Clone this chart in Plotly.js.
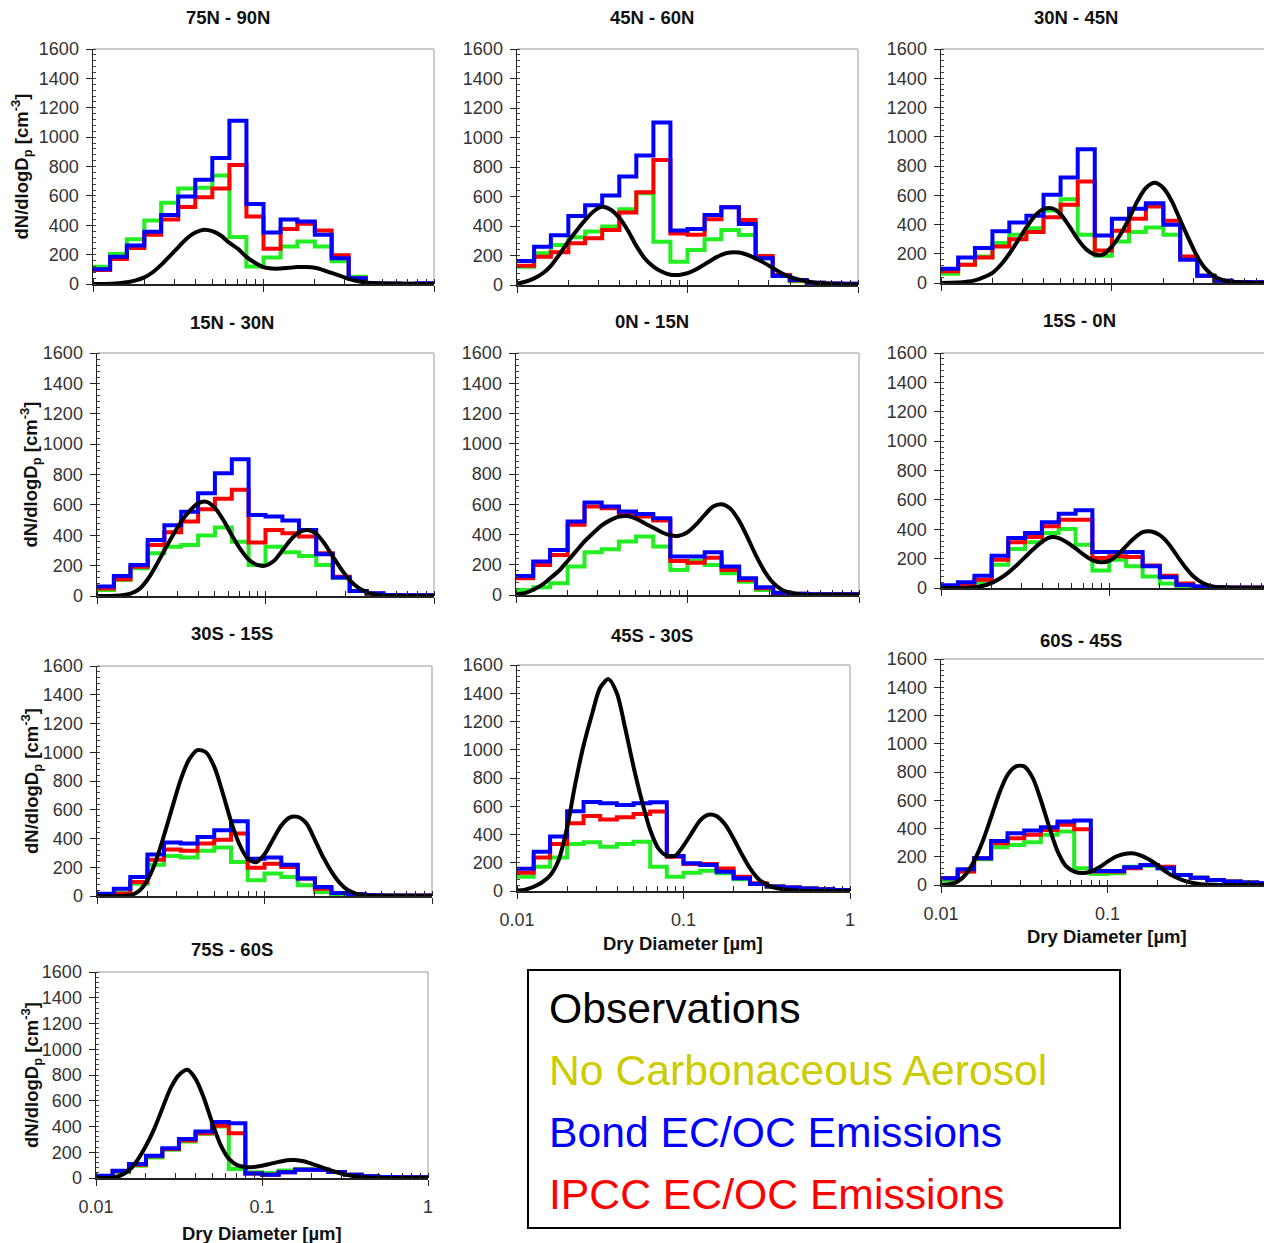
<!DOCTYPE html>
<html>
<head>
<meta charset="utf-8">
<script src="https://cdn.plot.ly/plotly-3.0.1.min.js"></script>
<style>html,body{margin:0;padding:0;background:#fff;}#chart{width:1264px;height:1243px;}</style>
</head>
<body>
<div id="chart"></div>
<script>
// ---------------- DATA ----------------
// Model size-bin edges (dry diameter, µm), 10 bins per decade
const binEdges = [0.01, 0.0126, 0.0158, 0.02, 0.0251, 0.0316, 0.0398, 0.0501, 0.0631, 0.0794,
                  0.1, 0.126, 0.158, 0.2, 0.251, 0.316, 0.398, 0.501, 0.631, 0.794, 1.0];
// Diameters where the observed distribution is sampled (µm)
const obsDiam = [0.01, 0.0112, 0.0126, 0.0141, 0.0158, 0.0178, 0.02, 0.0224, 0.0251, 0.0282,
                 0.0316, 0.0355, 0.0398, 0.0447, 0.0501, 0.0562, 0.0631, 0.0708, 0.0794, 0.0891,
                 0.1, 0.112, 0.126, 0.141, 0.158, 0.178, 0.2, 0.224, 0.251, 0.282,
                 0.316, 0.355, 0.398, 0.447, 0.501, 0.562, 0.631, 0.708, 0.794, 0.891, 1.0];

const regionNames = ['75N - 90N', '45N - 60N', '30N - 45N', '15N - 30N', '0N - 15N',
                     '15S - 0N', '30S - 15S', '45S - 30S', '60S - 45S', '75S - 60S'];

const seriesNames = ['Observations', 'No Carbonaceous Aerosol', 'Bond EC/OC Emissions', 'IPCC EC/OC Emissions'];

// 75N - 90N
const obs1  = [0,0,2,5,12,25,45,80,130,190,250,310,350,370,360,330,280,240,185,145,115,105,105,110,115,115,110,95,75,55,35,20,10,5,2,0,0,0,0,0,0];
const none1 = [118,205,305,432,554,650,655,738,320,120,180,255,290,255,155,50,6,3,2,2];
const ipcc1 = [95,170,245,335,440,525,590,650,810,460,240,375,410,365,195,40,5,3,2,2];
const bond1 = [100,185,262,355,470,595,710,858,1112,545,350,440,425,335,175,40,5,3,2,5];
// 45N - 60N
const obs2  = [8,22,45,78,130,210,295,370,440,500,530,510,455,370,265,180,125,90,70,68,80,105,140,175,205,220,220,205,180,150,115,82,55,38,25,16,10,6,4,3,2];
const none2 = [124,215,271,324,362,396,513,622,294,158,238,310,373,339,181,66,25,12,8,6];
const ipcc2 = [130,192,222,283,317,373,491,629,848,350,340,446,527,441,197,68,30,15,10,8];
const bond2 = [163,260,337,468,541,606,735,878,1102,369,380,475,527,414,181,61,34,16,10,8];
// 30N - 45N
const obs3  = [0,1,3,8,18,40,70,125,200,290,380,460,505,510,470,390,300,230,195,195,250,330,440,560,650,685,650,560,430,300,180,95,45,20,8,3,1,0,0,0,0];
const none3 = [64,125,182,273,330,375,496,573,330,187,284,348,380,330,170,50,16,6,5,5];
const ipcc3 = [80,125,175,250,300,348,450,535,694,223,357,439,523,425,182,50,16,6,5,5];
const bond3 = [98,175,239,353,414,460,603,721,915,325,439,507,546,398,159,50,16,6,5,5];
// 15N - 30N
const obs4  = [0,0,2,5,15,45,110,200,300,400,490,560,610,620,580,500,400,310,240,205,200,230,300,370,420,435,410,345,260,175,105,55,25,10,4,1,0,0,0,0,0];
const none4 = [40,105,182,281,325,336,398,451,358,204,325,288,264,204,120,33,15,7,5,5];
const ipcc4 = [50,110,193,336,420,490,571,640,699,352,435,413,391,281,127,33,15,7,5,5];
const bond4 = [62,132,204,369,466,554,677,809,901,534,523,497,435,275,121,33,18,7,5,5];
// 0N - 15N
const obs5  = [5,12,35,65,110,160,225,290,355,410,460,495,518,522,505,475,445,415,395,392,415,465,530,585,600,570,490,380,260,155,80,35,15,5,2,0,0,0,0,0,0];
const none5 = [33,51,77,188,283,302,353,386,320,166,227,199,143,88,33,8,5,5,5,5];
const ipcc5 = [110,199,265,464,585,574,541,519,492,225,214,247,166,99,44,12,8,5,5,5];
const bond5 = [126,221,298,486,611,585,552,536,508,254,254,283,188,110,51,15,8,5,5,5];
// 15S - 0N
const obs6  = [0,0,0,2,5,15,35,65,105,155,210,265,315,345,340,310,270,225,190,175,185,225,285,340,380,385,360,305,225,145,80,38,15,5,2,0,0,0,0,0,0];
const none6 = [5,11,39,159,266,311,374,402,295,120,193,148,79,30,7,3,2,2,2,2];
const ipcc6 = [11,16,57,193,311,347,420,465,465,204,216,211,154,84,30,11,5,4,3,3];
const bond6 = [18,39,84,220,340,374,447,506,529,245,245,245,148,73,20,11,5,4,3,3];
// 30S - 15S
const obs7  = [0,0,0,0,5,35,110,240,420,620,810,950,1015,1000,900,720,520,360,260,235,290,390,490,545,550,505,390,270,170,90,40,15,5,2,0,0,0,0,0,0,0];
const none7 = [0,21,86,218,279,267,314,337,237,109,156,132,74,28,12,6,4,3,2,2];
const ipcc7 = [5,16,97,253,323,314,365,392,434,197,225,202,121,51,21,12,6,4,3,3];
const bond7 = [16,51,132,288,372,365,411,457,520,260,267,218,121,63,21,12,6,4,3,3];
// 45S - 30S
const obs8  = [3,10,30,60,110,220,450,760,1030,1250,1440,1500,1400,1150,880,640,432,300,250,250,320,410,500,540,530,470,370,260,160,85,45,22,12,6,3,0,0,0,0,0,0];
const none8 = [101,172,238,333,345,314,333,349,172,101,130,144,125,83,50,31,24,17,12,7];
const ipcc8 = [130,238,333,479,531,507,522,545,562,243,191,191,160,101,54,31,24,17,12,7];
const bond8 = [158,278,385,564,630,621,609,621,628,248,196,184,137,90,50,31,24,17,12,7];
// 60S - 45S
const obs9  = [0,5,25,75,170,310,480,650,780,840,840,760,600,410,240,135,95,85,95,125,165,200,220,225,210,180,140,95,60,35,18,8,3,1,0,0,0,0,0,0,0];
const none9 = [31,95,182,267,284,303,355,378,118,78,83,130,137,118,71,52,35,24,17,12];
const ipcc9 = [47,95,189,296,331,355,390,426,395,95,95,118,142,130,71,52,35,24,17,12];
const bond9 = [47,111,189,312,366,385,409,449,456,99,99,125,142,118,71,52,35,24,17,12];
// 75S - 60S
const obs10  = [0,0,2,20,60,140,250,380,540,700,800,840,770,620,430,260,150,100,85,85,95,110,125,138,140,130,110,88,65,45,28,15,7,2,0,0,0,0,0,0,0];
const none10 = [8,44,95,160,219,284,343,400,70,44,39,59,70,65,46,26,13,8,5,5];
const ipcc10 = [12,52,103,168,225,292,348,405,348,34,26,44,65,65,46,26,13,8,5,5];
const bond10 = [18,57,108,173,232,302,361,434,426,34,26,44,65,65,46,26,13,8,5,5];

const yTickVals = [0, 200, 400, 600, 800, 1000, 1200, 1400, 1600];

// ---------------- LAYOUT GEOMETRY (pixels) ----------------
const W = 1264, H = 1243;
const FONT = 'Liberation Sans, Arial, Helvetica, sans-serif';
const panels = [
  {obs:obs1, none:none1, ipcc:ipcc1, bond:bond1, x:[93,434],  y:[49,284],  xEnd:0,     t:[228,17],   yt:22, xl:false, rb:true},
  {obs:obs2, none:none2, ipcc:ipcc2, bond:bond2, x:[517,858], y:[49,285],  xEnd:0,     t:[652,17],   yt:null, xl:false, rb:true},
  {obs:obs3, none:none3, ipcc:ipcc3, bond:bond3, x:[941,1264],y:[49,283],  xEnd:-0.11, t:[1076,17],  yt:null, xl:false, rb:false},
  {obs:obs4, none:none4, ipcc:ipcc4, bond:bond4, x:[97,434],  y:[353,596], xEnd:0,     t:[232,323],  yt:31, xl:false, rb:true},
  {obs:obs5, none:none5, ipcc:ipcc5, bond:bond5, x:[516,859], y:[353,595], xEnd:0,     t:[652,322],  yt:null, xl:false, rb:true},
  {obs:obs6, none:none6, ipcc:ipcc6, bond:bond6, x:[941,1264],y:[353,588], xEnd:-0.08, t:[1079,321], yt:null, xl:false, rb:false},
  {obs:obs7, none:none7, ipcc:ipcc7, bond:bond7, x:[97,432],  y:[666,896], xEnd:0,     t:[232,633],  yt:31, xl:false, rb:true},
  {obs:obs8, none:none8, ipcc:ipcc8, bond:bond8, x:[517,850], y:[665,891], xEnd:0,     t:[652,635],  yt:null, xl:true, xt:[683,943], rb:true},
  {obs:obs9, none:none9, ipcc:ipcc9, bond:bond9, x:[941,1264],y:[659,885], xEnd:-0.06, t:[1081,640], yt:null, xl:true, xt:[1107,937], rb:false},
  {obs:obs10,none:none10,ipcc:ipcc10,bond:bond10,x:[96,428],  y:[972,1178],xEnd:0,     t:[232,949],  yt:31, xl:true, xt:[262,1233], rb:true}
];

const px = v => v / W;
const py = v => 1 - v / H;

const traces = [];
const layout = {
  width: W, height: H,
  margin: {l:0, r:0, t:0, b:0, pad:0},
  paper_bgcolor: '#fff', plot_bgcolor: '#fff',
  showlegend: false,
  font: {family: FONT, color: '#222'},
  annotations: [], shapes: []
};

function stepY(arr) { return arr.concat([arr[arr.length - 1]]); }

panels.forEach((p, i) => {
  const s = i === 0 ? '' : String(i + 1);
  const xa = 'x' + s, ya = 'y' + s;
  const series = [
    {y: stepY(p.none), color: '#22ee22', name: seriesNames[1]},
    {y: stepY(p.ipcc), color: '#ff0000', name: seriesNames[3]},
    {y: stepY(p.bond), color: '#0000ff', name: seriesNames[2]}
  ];
  series.forEach(sr => traces.push({
    x: binEdges, y: sr.y, xaxis: xa, yaxis: ya, type: 'scatter', mode: 'lines',
    name: sr.name, line: {color: sr.color, width: 4, shape: 'hv'}, hoverinfo: 'skip'
  }));
  traces.push({
    x: obsDiam, y: p.obs, xaxis: xa, yaxis: ya, type: 'scatter', mode: 'lines',
    name: seriesNames[0], line: {color: '#000', width: 4, shape: 'spline', smoothing: 0.8}, hoverinfo: 'skip'
  });

  layout['xaxis' + s] = {
    domain: [px(p.x[0]), px(p.x[1])], anchor: ya, type: 'log', range: [-2, p.xEnd],
    showline: true, linecolor: '#222', linewidth: 1.5, mirror: false,
    ticks: 'outside', ticklen: 6, tickcolor: '#222', tickwidth: 1,
    tick0: 0, dtick: 1, showticklabels: p.xl, ticklabelstandoff: 6,
    tickfont: {family: FONT, size: 18, color: '#333'},
    showgrid: false, zeroline: false, fixedrange: true,
    minor: {ticks: 'inside', ticklen: 5, tickcolor: '#222', tickwidth: 1, dtick: 'D1', showgrid: false}
  };
  layout['yaxis' + s] = {
    domain: [py(p.y[1]), py(p.y[0])], anchor: xa, range: [0, 1600],
    tickmode: 'array', tickvals: yTickVals,
    showline: true, linecolor: '#222', linewidth: 1.5,
    ticks: 'outside', ticklen: 6, tickcolor: '#222', tickwidth: 1, ticklabelstandoff: 3,
    tickfont: {family: FONT, size: 18, color: '#333'},
    showgrid: false, zeroline: false, fixedrange: true,
    minor: {ticks: 'inside', ticklen: 3, tickcolor: '#444', tickwidth: 1, dtick: 40, showgrid: false}
  };
  // light frame on top (and right)
  layout.shapes.push({type: 'line', xref: xa + ' domain', yref: ya + ' domain', x0: 0, x1: 1, y0: 1, y1: 1,
                      line: {color: '#999', width: 1}, layer: 'below'});
  if (p.rb) layout.shapes.push({type: 'line', xref: xa + ' domain', yref: ya + ' domain', x0: 1, x1: 1, y0: 0, y1: 1,
                      line: {color: '#999', width: 1}, layer: 'below'});
  // panel title
  layout.annotations.push({text: '<b>' + regionNames[i] + '</b>', xref: 'paper', yref: 'paper',
    x: px(p.t[0]), y: py(p.t[1]), xanchor: 'center', yanchor: 'middle', showarrow: false,
    font: {family: FONT, size: 18.5, color: '#111'}});
  if (p.yt !== null) {
    layout.annotations.push({text: '<b>dN/dlogD<sub>p</sub> [cm<sup>-3</sup>]</b>', xref: 'paper', yref: 'paper',
      x: px(p.yt), y: py((p.y[0] + p.y[1]) / 2), xanchor: 'center', yanchor: 'middle', textangle: -90, showarrow: false,
      font: {family: FONT, size: 18.5, color: '#111'}});
  }
  if (p.xt) {
    layout.annotations.push({text: '<b>Dry Diameter [µm]</b>', xref: 'paper', yref: 'paper',
      x: px(p.xt[0]), y: py(p.xt[1]), xanchor: 'center', yanchor: 'middle', showarrow: false,
      font: {family: FONT, size: 18.5, color: '#111'}});
  }
});

// legend box
layout.shapes.push({type: 'rect', xref: 'paper', yref: 'paper', x0: px(528), x1: px(1120), y0: py(1228), y1: py(970),
                    line: {color: '#000', width: 2}, fillcolor: 'rgba(0,0,0,0)'});
const legendColors = ['#000000', '#cccc00', '#0000ff', '#ff0000'];
const legendY = [1008, 1070, 1132, 1194];
seriesNames.forEach((nm, k) => {
  layout.annotations.push({text: nm, xref: 'paper', yref: 'paper', x: px(547), y: py(legendY[k]),
    xanchor: 'left', yanchor: 'middle', showarrow: false,
    font: {family: FONT, size: 42.7, color: legendColors[k]}});
});

Plotly.newPlot('chart', traces, layout, {staticPlot: true, displayModeBar: false});
</script>
</body>
</html>
